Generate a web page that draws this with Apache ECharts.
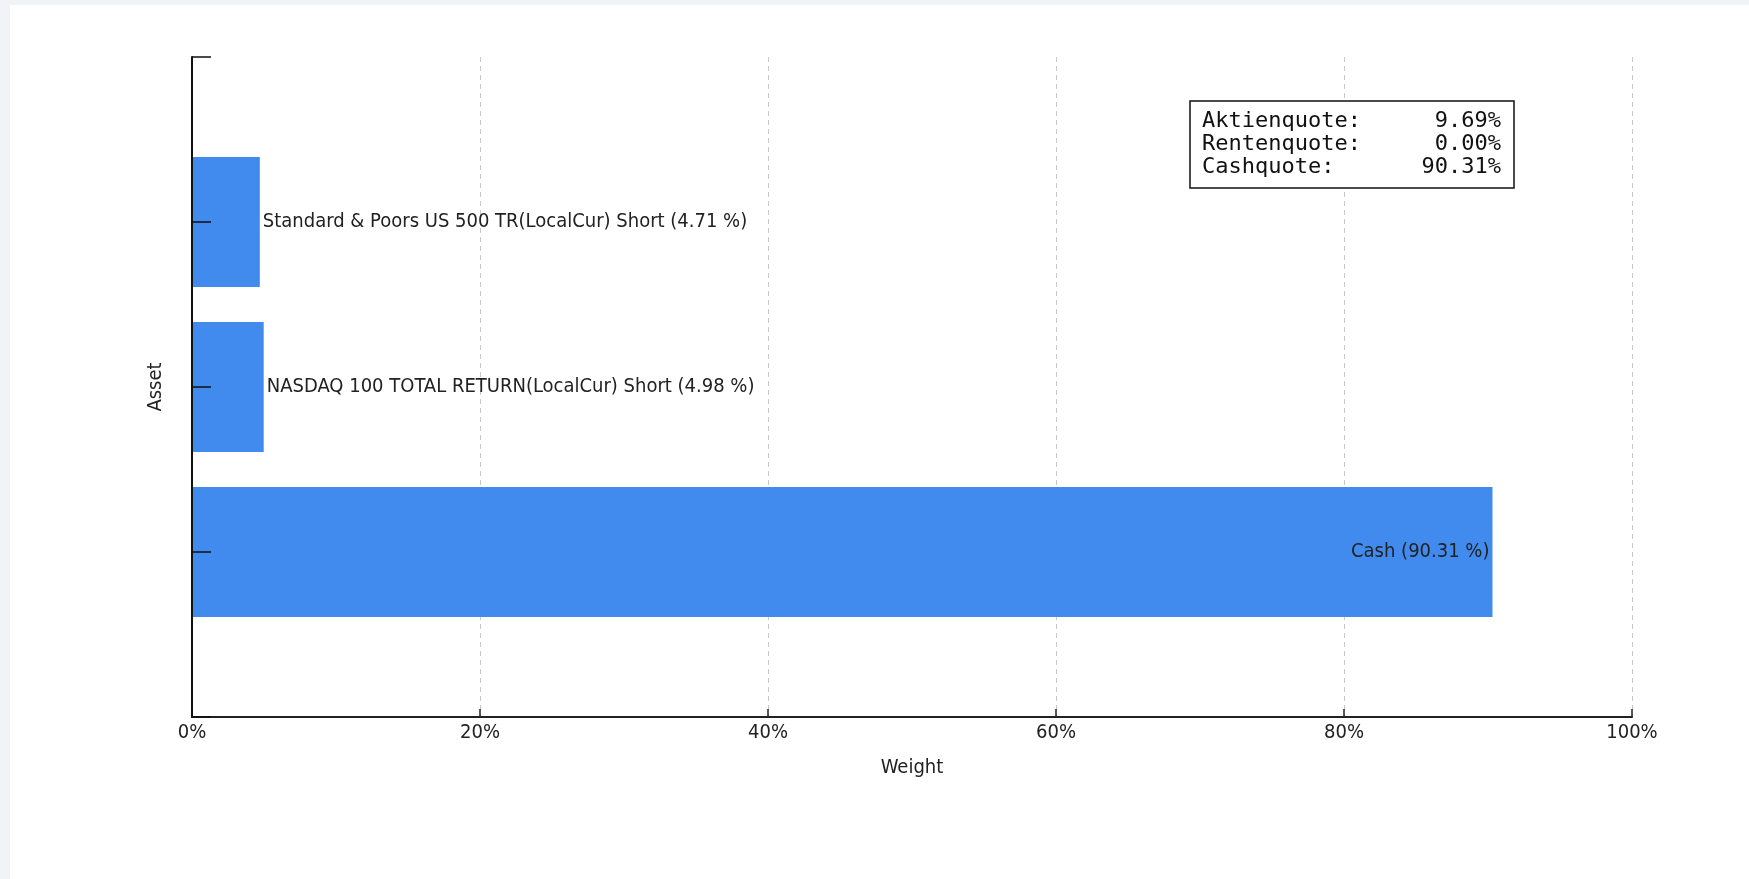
<!DOCTYPE html>
<html>
<head>
<meta charset="utf-8">
<script src="https://cdn.jsdelivr.net/npm/echarts@6/dist/echarts.min.js"></script>
<style>
  html, body { margin: 0; padding: 0; background: #f1f3f7; width: 1749px; height: 879px; overflow: hidden; }
  #chart { position: absolute; left: 10px; top: 5px; width: 1739px; height: 874px; background: #ffffff; }
</style>
</head>
<body>
<div id="chart"></div>
<script>
// ---- data ----
const categories = ['', 'Cash', 'NASDAQ 100 TOTAL RETURN(LocalCur) Short', 'Standard & Poors US 500 TR(LocalCur) Short', ''];
const weights = [null, 90.31, 4.98, 4.71, null];
const xTicks = [0, 20, 40, 60, 80, 100];
const quoteLabels = ['Aktienquote:', 'Rentenquote:', 'Cashquote:'];
const quoteValues = ['9.69%', '0.00%', '90.31%'];

const FONT = "'Liberation Sans Narrow', 'DejaVu Sans Condensed', 'Liberation Sans', Arial, sans-serif";
const MONO = "'DejaVu Sans Mono', 'Liberation Mono', monospace";

const chart = echarts.init(document.getElementById('chart'), null, { renderer: 'canvas' });

const seriesData = weights.map((v, i) => {
  if (v === null) return '-';
  const inside = v > 50;
  return {
    value: v,
    label: {
      show: true,
      position: inside ? 'insideRight' : 'right',
      distance: 3
    }
  };
});

const legendGraphics = [];
legendGraphics.push({
  type: 'rect',
  shape: { x: 1180, y: 96, width: 324, height: 87 },
  style: { fill: '#ffffff', stroke: '#111111', lineWidth: 1.5 },
  z: 10
});
quoteLabels.forEach((lab, i) => {
  legendGraphics.push({
    type: 'text',
    x: 1192, y: 116 + i * 23,
    style: { text: lab, font: '22px ' + MONO, fill: '#111111', textVerticalAlign: 'middle', textAlign: 'left' },
    z: 11
  });
  legendGraphics.push({
    type: 'text',
    x: 1491, y: 116 + i * 23,
    style: { text: quoteValues[i], font: '22px ' + MONO, fill: '#111111', textVerticalAlign: 'middle', textAlign: 'right' },
    z: 11
  });
});

const option = {
  animation: false,
  backgroundColor: '#ffffff',
  grid: { left: 182, right: 117, top: 52, bottom: 162, containLabel: false },
  xAxis: {
    type: 'value',
    min: 0, max: 100, interval: 20,
    name: 'Weight',
    nameLocation: 'middle',
    nameGap: 41,
    nameTextStyle: { fontFamily: FONT, fontSize: 20, color: '#222' },
    axisLine: { show: true, lineStyle: { color: '#222', width: 2 } },
    axisTick: { show: true, inside: true, length: 8, lineStyle: { color: '#222', width: 1.5 } },
    axisLabel: {
      formatter: v => xTicks.includes(v) ? v + '%' : '',
      fontFamily: FONT, fontSize: 20, color: '#222', margin: 6
    },
    splitLine: { show: true, lineStyle: { color: '#c8c8c8', type: [5, 4], width: 1 } }
  },
  yAxis: {
    type: 'category',
    data: categories,
    boundaryGap: false,
    z: 5,
    name: 'Asset',
    nameLocation: 'middle',
    nameGap: 26,
    nameRotate: 90,
    nameTextStyle: { fontFamily: FONT, fontSize: 20, color: '#222' },
    axisLine: { show: true, lineStyle: { color: '#111', width: 2 } },
    axisTick: { show: true, inside: true, length: 19, alignWithLabel: true, lineStyle: { color: '#111', width: 1.5 } },
    axisLabel: { show: false },
    splitLine: { show: false }
  },
  series: [{
    type: 'bar',
    data: seriesData,
    barWidth: 130,
    itemStyle: { color: '#418bef' },
    label: {
      show: true,
      fontFamily: FONT,
      fontSize: 20,
      color: '#222',
      formatter: p => p.name + ' (' + p.value.toFixed(2) + ' %)'
    }
  }],
  graphic: legendGraphics
};

chart.setOption(option);
</script>
</body>
</html>
